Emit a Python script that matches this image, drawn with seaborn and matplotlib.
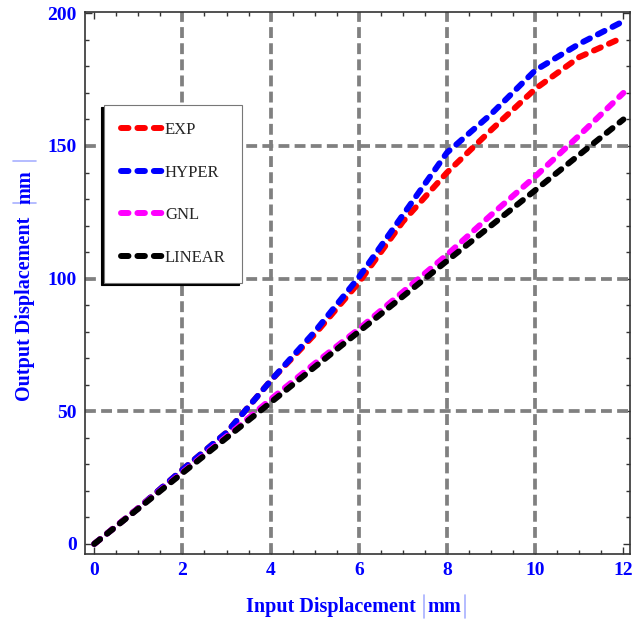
import matplotlib
matplotlib.use("Agg")
import matplotlib.pyplot as plt
from matplotlib.lines import Line2D
from matplotlib.ticker import MultipleLocator
import pandas as pd
import seaborn as sns

# Input displacement (mm) and the output displacement (mm) of each model
input_mm = [0, 1, 2, 3, 4, 5, 6, 7, 8, 9, 10, 11, 12]
exp_out = [0, 13.5, 28, 42, 61.5, 79, 98.5, 121.5, 140, 156, 171.5, 183.5, 191]
hyper_out = [0, 13.5, 28, 42, 61.5, 80, 100.5, 124, 147.5, 162, 178.5, 188.5, 197]
gnl_out = [0, 13.5, 27, 40.5, 54.5, 68, 81, 95, 109, 124, 138.5, 154, 170]
linear_out = [0, 13.3, 26.7, 40, 53.3, 66.7, 80, 93.3, 106.7, 120, 133.3, 146.7, 160]

models = ["EXP", "HYPER", "GNL", "LINEAR"]
colors = ["#ff0000", "#0000ff", "#ff00ff", "#000000"]
x_grid = [2, 4, 6, 8, 10]
y_grid = [50, 100, 150]

df = pd.concat(
    [pd.DataFrame({"x": input_mm, "y": vals, "model": name})
     for name, vals in zip(models, [exp_out, hyper_out, gnl_out, linear_out])],
    ignore_index=True,
)

sns.set_theme(style="ticks")
plt.rcParams["font.family"] = ["Liberation Serif", "DejaVu Serif"]

W, H = 633, 624
fig = plt.figure(figsize=(W / 100, H / 100), dpi=100)
ax = fig.add_axes([85 / W, 1 - 554 / H, 545 / W, 542 / H])

LW = 4.3
DASH = (1.25, 1.5)
GRID = "#808080"

# dashed grey grid at the interior major ticks
for gx in x_grid:
    ax.axvline(gx, color=GRID, lw=2.7, dashes=(2.9, 1.4), zorder=1)
for gy in y_grid:
    ax.axhline(gy, color=GRID, lw=2.7, dashes=(2.9, 1.4), zorder=1)

sns.lineplot(data=df, x="x", y="y", hue="model", hue_order=models,
             palette=dict(zip(models, colors)), lw=LW, legend=False,
             ax=ax, zorder=3)
for line in ax.get_lines()[len(x_grid) + len(y_grid):]:
    line.set_dashes(DASH)
    line.set_dash_capstyle("round")

ax.set_xlim(-0.21, 12.15)
ax.set_ylim(-3.8, 200.5)
ax.xaxis.set_major_locator(MultipleLocator(2))
ax.xaxis.set_minor_locator(MultipleLocator(0.5))
ax.yaxis.set_major_locator(MultipleLocator(50))
ax.yaxis.set_minor_locator(MultipleLocator(10))
ax.tick_params(which="both", direction="in", top=True, right=True,
               color="#333333", width=1)
ax.tick_params(which="major", length=5)
ax.tick_params(which="minor", length=3)
ax.tick_params(labelsize=14, labelcolor="#0000ff", pad=6)
for lab in ax.get_xticklabels() + ax.get_yticklabels():
    lab.set_fontweight("bold")
for sp in ax.spines.values():
    sp.set_color("#333333")
    sp.set_linewidth(1.2)
ax.set_xlabel("")
ax.set_ylabel("")

# legend with a black drop shadow towards the lower left
handles = [Line2D([], [], color=c, lw=LW, dashes=DASH, dash_capstyle="round")
           for c in colors]
leg = ax.legend(handles, models, loc="upper left",
                bbox_to_anchor=(0.035, 0.828), borderaxespad=0,
                fancybox=False, frameon=True, edgecolor="#777777",
                framealpha=1, prop={"family": "Liberation Serif", "size": 12},
                handlelength=2.5, handletextpad=0.15, labelspacing=1.6,
                borderpad=1.0,
                shadow={"ox": -2.5, "oy": -1.5, "color": "black", "alpha": 1})
leg.get_frame().set_linewidth(0.8)
leg.set_zorder(5)

# axis titles: blue bold text followed by "mm" set between thin light bars
renderer = fig.canvas.get_renderer()
BLUE = "#0000ff"
BAR = "#a8b0ff"
tprops = dict(fontsize=14.5, fontweight="bold", color=BLUE)


def label_parts(main, unit, center, vertical):
    cx, cy = center
    rot = 90 if vertical else 0
    t1 = fig.text(0, 0, main, rotation=rot, **tprops)
    t2 = fig.text(0, 0, unit, rotation=rot, **tprops)
    b1 = t1.get_window_extent(renderer)
    b2 = t2.get_window_extent(renderer)
    gap1, gap2 = 12, 5
    if not vertical:
        total = b1.width + gap1 + b2.width + gap2
        x0 = cx - total / 2
        t1.set_position((x0 / W, cy / H))
        t1.set_va("center")
        xm = x0 + b1.width + gap1
        t2.set_position((xm / W, cy / H))
        t2.set_va("center")
        for bx in (xm - gap2 + 1, xm + b2.width + gap2 - 1):
            fig.add_artist(Line2D([bx / W, bx / W],
                                  [(cy - 11) / H, (cy + 12) / H],
                                  color=BAR, lw=1.2))
    else:
        total = b1.height + gap1 + b2.height + gap2
        y0 = cy - total / 2
        t1.set_position((cx / W, y0 / H))
        t1.set_ha("center")
        ym = y0 + b1.height + gap1
        t2.set_position((cx / W, ym / H))
        t2.set_ha("center")
        for by in (ym - gap2 + 1, ym + b2.height + gap2 - 1):
            fig.add_artist(Line2D([(cx - 12) / W, (cx + 11) / W],
                                  [by / H, by / H],
                                  color=BAR, lw=1.2))


label_parts("Input Displacement", "mm", (356, H - 607), vertical=False)
label_parts("Output Displacement", "mm", (25, H - 278), vertical=True)

fig.savefig("out.png", dpi=100)
